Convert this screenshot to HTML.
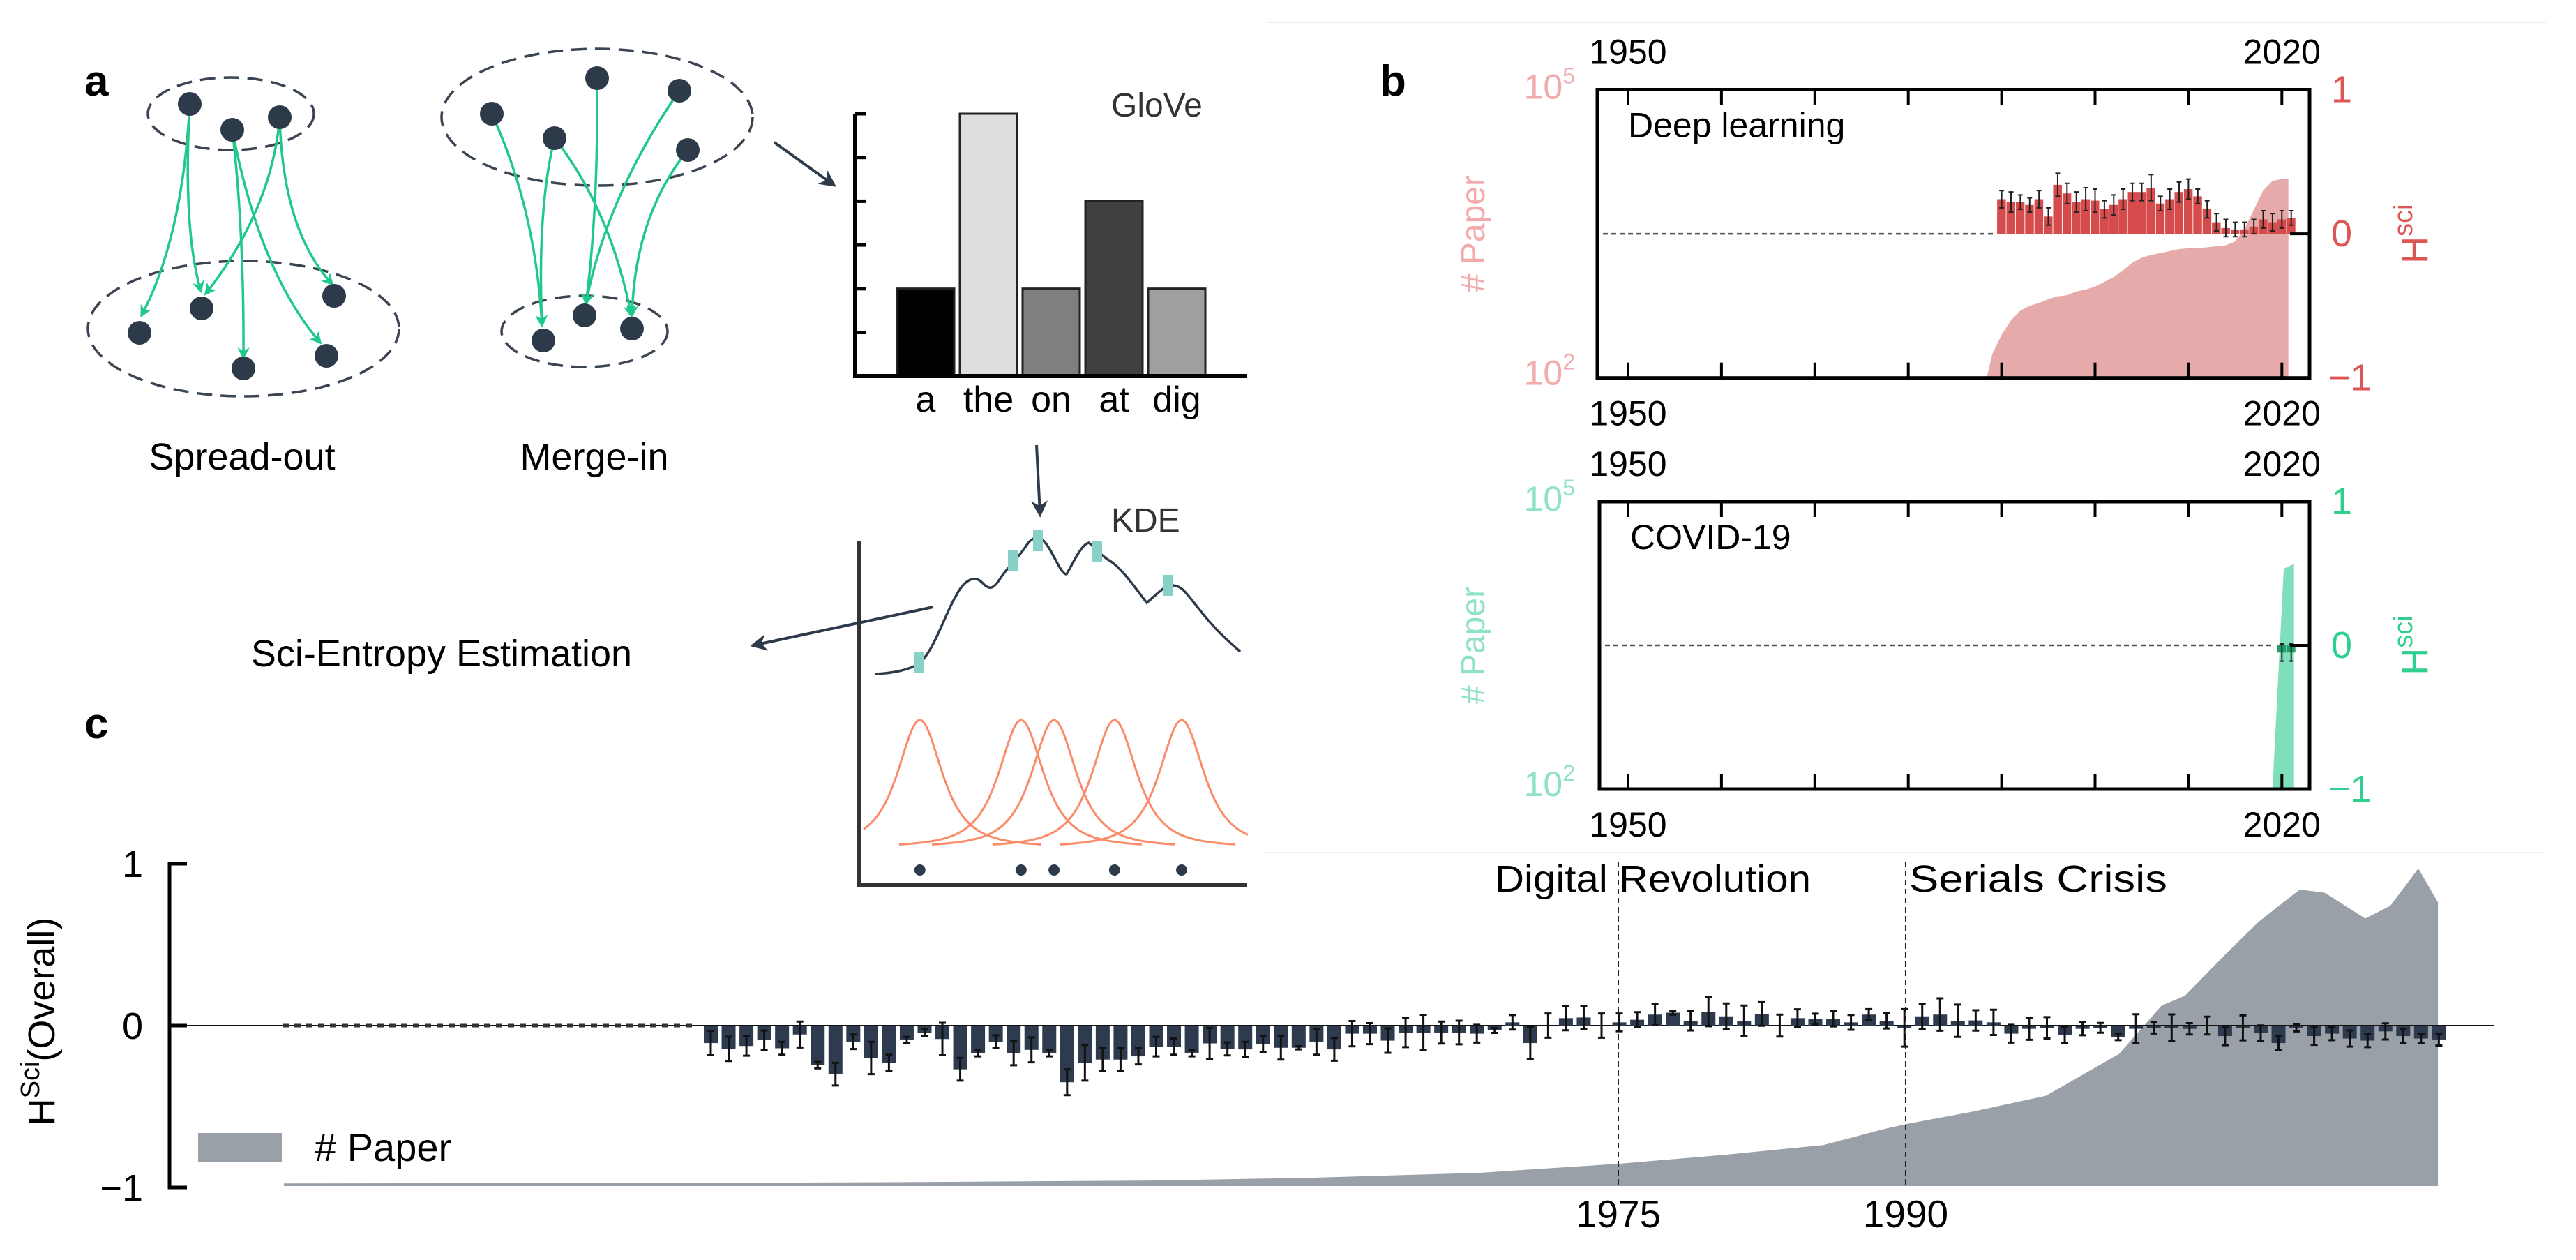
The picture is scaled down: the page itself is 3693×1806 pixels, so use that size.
<!DOCTYPE html>
<html><head><meta charset="utf-8"><style>
html,body{margin:0;padding:0;background:#fff;}
svg{display:block;font-family:"Liberation Sans",Arial,sans-serif;}
</style></head><body>
<svg id="fig" width="3693" height="1806" viewBox="0 0 3693 1806" xmlns="http://www.w3.org/2000/svg">
<defs>
<marker id="ga" viewBox="0 0 10 10" refX="8" refY="5" markerWidth="5" markerHeight="5" orient="auto"><path d="M0,0 L10,5 L0,10 L3,5 z" fill="#1fc98b"/></marker>
<marker id="da" viewBox="0 0 10 10" refX="8" refY="5" markerWidth="6" markerHeight="6" orient="auto"><path d="M0,0 L10,5 L0,10 L3,5 z" fill="#2d3a4a"/></marker>
</defs>
<line x1="1816" y1="32" x2="3650" y2="32" stroke="#ececec" stroke-width="2"/>
<line x1="1813" y1="1222" x2="3650" y2="1222" stroke="#f0f0f0" stroke-width="2"/>

<!-- PANEL A -->
<g>
<text x="121" y="137" font-size="62" font-weight="bold">a</text>
<g fill="none">
<ellipse cx="331" cy="163" rx="119" ry="52" stroke="#3a4452" stroke-width="3.5" stroke-dasharray="22,12"/>
<ellipse cx="349" cy="471" rx="223" ry="97" stroke="#3a4452" stroke-width="3.5" stroke-dasharray="22,12"/>
<g stroke="#1fc98b" stroke-width="3.5" marker-end="url(#ga)">
<path d="M272,149 Q262,340 203,452"/>
<path d="M272,149 Q262,330 288,417"/>
<path d="M333,186 Q350,330 349,512"/>
<path d="M333,186 Q372,390 459,491"/>
<path d="M401,168 Q390,300 295,421"/>
<path d="M401,168 Q405,330 476,407"/>
</g>
<g fill="#2d3a4a">
<circle cx="272" cy="149" r="17"/>
<circle cx="333" cy="186" r="17"/>
<circle cx="401" cy="168" r="17"/>
<circle cx="200" cy="477" r="17"/>
<circle cx="289" cy="442" r="17"/>
<circle cx="349" cy="528" r="17"/>
<circle cx="468" cy="510" r="17"/>
<circle cx="479" cy="424" r="17"/>
</g>
</g>
<text x="347" y="673" font-size="54" text-anchor="middle">Spread-out</text>
<g fill="none">
<ellipse cx="856" cy="168" rx="223" ry="98" stroke="#3a4452" stroke-width="3.5" stroke-dasharray="22,12"/>
<ellipse cx="838" cy="475" rx="119" ry="51" stroke="#3a4452" stroke-width="3.5" stroke-dasharray="22,12"/>
<g stroke="#1fc98b" stroke-width="3.5" marker-end="url(#ga)">
<path d="M705,163 Q768,300 777,466"/>
<path d="M795,198 Q770,300 777,466"/>
<path d="M795,198 Q875,300 905,452"/>
<path d="M856,112 Q858,300 840,435"/>
<path d="M974,130 Q870,280 840,435"/>
<path d="M986,215 Q910,310 906,452"/>
</g>
<g fill="#2d3a4a">
<circle cx="705" cy="163" r="17"/>
<circle cx="795" cy="198" r="17"/>
<circle cx="856" cy="112" r="17"/>
<circle cx="974" cy="130" r="17"/>
<circle cx="986" cy="215" r="17"/>
<circle cx="779" cy="488" r="17"/>
<circle cx="838" cy="452" r="17"/>
<circle cx="906" cy="471" r="17"/>
</g>
</g>
<text x="852" y="673" font-size="54" text-anchor="middle">Merge-in</text>
<g stroke="#2d3a4a" stroke-width="4" marker-end="url(#da)" fill="none">
<line x1="1110" y1="204" x2="1195" y2="265"/>
<line x1="1486" y1="638" x2="1491" y2="737"/>
<line x1="1338" y1="870" x2="1080" y2="925"/>
</g>
<text x="633" y="955" font-size="54" text-anchor="middle">Sci-Entropy Estimation</text>
<g id="glove"></g>
<text x="1593" y="167" font-size="48" fill="#333">GloVe</text>
<g id="kde"></g>
<text x="1593" y="762" font-size="48" fill="#333">KDE</text>
</g>

<!-- PANEL B -->
<text x="1978" y="137" font-size="62" font-weight="bold">b</text>
<g id="dl"></g>
<g id="cv"></g>

<!-- PANEL C -->
<text x="121" y="1058" font-size="62" font-weight="bold">c</text>
<g id="ov"></g>
</svg>
<script>
// ---------- GloVe data ----------
const gloveWords = ["a","the","on","at","dig"];
const gloveValues = [2, 6, 2, 4, 2];
const gloveColors = ["#000000","#dedede","#7f7f7f","#404040","#9f9f9f"];
// ---------- KDE data ----------
const kdeSamples = [1.56, 4.17, 5.02, 6.58, 8.31];
// ---------- Deep learning ----------
const dlYears = [];
for (let y = 1990; y <= 2021; y++) dlYears.push(y);
const dlH = [0.24,0.22,0.22,0.2,0.24,0.12,0.34,0.28,0.22,0.24,0.23,0.17,0.2,0.24,0.29,0.29,0.32,0.21,0.24,0.29,0.31,0.26,0.17,0.08,0.04,0.03,0.03,0.05,0.1,0.08,0.1,0.11];
const dlErr = [0.06,0.07,0.05,0.05,0.06,0.06,0.08,0.07,0.07,0.08,0.08,0.06,0.07,0.07,0.06,0.06,0.09,0.05,0.07,0.07,0.07,0.05,0.06,0.06,0.06,0.05,0.05,0.05,0.06,0.06,0.06,0.05];
const dlPaperYears = [1988.4,1989,1990,1991,1992,1993,1994,1995,1996,1997,1998,1999,2000,2001,2002,2003,2004,2005,2006,2007,2008,2009,2010,2011,2012,2013,2014,2015,2016,2017,2018,2019,2020,2020.7];
const dlPaperLog = [2.0,2.25,2.45,2.6,2.7,2.75,2.78,2.82,2.85,2.86,2.9,2.92,2.95,3.0,3.05,3.12,3.2,3.25,3.28,3.3,3.32,3.34,3.35,3.35,3.36,3.37,3.38,3.42,3.55,3.75,3.95,4.05,4.07,4.07];
// ---------- COVID ----------
const cvYears = [2020, 2021];
const cvH = [-0.05, -0.05];
const cvErr = [0.06, 0.06];
const cvPaperYears = [2019.0, 2020.2, 2021.3];
const cvPaperLog = [2.0, 4.3, 4.35];
// ---------- Overall ----------
const ovH = [-0.108,-0.144,-0.126,-0.09,-0.14,-0.055,-0.244,-0.30,-0.10,-0.20,-0.23,-0.09,-0.043,-0.083,-0.27,-0.17,-0.10,-0.17,-0.15,-0.17,-0.35,-0.23,-0.21,-0.21,-0.19,-0.13,-0.13,-0.17,-0.11,-0.144,-0.147,-0.115,-0.137,-0.137,-0.10,-0.147,-0.05,-0.05,-0.093,-0.043,-0.043,-0.043,-0.043,-0.05,-0.03,0.02,-0.108,0.0,0.046,0.05,
0.0,0.02,0.036,0.068,0.08,0.03,0.086,0.057,0.03,0.072,0.0,0.046,0.04,0.043,0.02,0.068,0.03,-0.014,0.057,0.068,0.03,0.032,0.02,-0.05,-0.02,-0.014,-0.057,-0.02,-0.014,-0.07,-0.02,-0.014,-0.014,-0.02,0.0,-0.065,-0.014,-0.046,-0.108,-0.014,-0.065,-0.05,-0.08,-0.093,-0.036,-0.065,-0.08,-0.086];
const ovErr = [0.075,0.075,0.06,0.06,0.04,0.08,0.02,0.07,0.045,0.1,0.05,0.02,0.02,0.1,0.07,0.02,0.04,0.075,0.077,0.02,0.08,0.11,0.07,0.07,0.05,0.06,0.05,0.02,0.095,0.04,0.047,0.05,0.073,0.01,0.08,0.07,0.078,0.065,0.075,0.09,0.11,0.068,0.073,0.055,0.015,0.045,0.1,0.075,0.075,0.07,
0.075,0.055,0.047,0.065,0.012,0.06,0.09,0.08,0.094,0.073,0.068,0.055,0.034,0.048,0.046,0.034,0.048,0.116,0.077,0.1,0.1,0.063,0.078,0.055,0.068,0.066,0.05,0.04,0.03,0.02,0.09,0.035,0.083,0.035,0.055,0.056,0.077,0.047,0.045,0.022,0.054,0.04,0.05,0.04,0.05,0.043,0.027,0.037];
const ovPaperIdx = [-23.96,0,10,24.67,33.87,43.1,50.94,56.9,62.45,65.86,67.07,70.75,74.94,79.05,81.44,82.74,85.04,86.88,89.19,90.6,92.87,94.28,95.85,96.95];
const ovPaper = [0.008,0.01,0.012,0.017,0.026,0.041,0.069,0.097,0.127,0.177,0.192,0.23,0.28,0.41,0.56,0.59,0.72,0.82,0.92,0.91,0.83,0.87,0.985,0.88];
const ovEventIdx = [50.94, 67.07];
const ovEventLabels = ["Digital Revolution", "Serials Crisis"];
const ovTickLabels = ["1975", "1990"];
const ovYTicks = [1, 0, -1];

const NS = "http://www.w3.org/2000/svg";
function mk(parent, tag, attrs, text) {
  const e = document.createElementNS(NS, tag);
  for (const k in attrs) e.setAttribute(k, attrs[k]);
  if (text !== undefined) e.textContent = text;
  parent.appendChild(e);
  return e;
}

// ---------- GloVe chart ----------
(function(){
  const g = document.getElementById('glove');
  const x0 = 1286, bw = 82, gap = 90, yb = 539, unit = (539-163)/6;
  gloveValues.forEach((v, i) => {
    const x = x0 + i*gap;
    const r = mk(g, 'rect', {x: x, y: yb - v*unit, width: bw, height: v*unit, fill: gloveColors[i], stroke: '#222', 'stroke-width': 3});
    
    
    const t = mk(g, 'text', {x: x + bw/2, y: 590, 'font-size': 52, 'text-anchor': 'middle'}, gloveWords[i]);
    
    
  });
  const ax = mk(g, 'path', {d: 'M1226,163 L1226,539 L1788,539', fill: 'none', stroke: '#000', 'stroke-width': 6});
  
  
  for (let k = 0; k <= 5; k++) {
    const ty = 163 + k*unit*1.0 + (k>0? 0:0);
    const tk = mk(g, 'line', {x1: 1226, x2: 1241, y1: 163 + k*62.7, y2: 163 + k*62.7, stroke: '#000', 'stroke-width': 5});
    
    
  }
})();

// ---------- KDE chart ----------
(function(){
  const g = document.getElementById('kde');
  const sx = v => 1232 + v*55.6;
  const base = 1214, h = 182, gam = 49;
  kdeSamples.forEach(s => {
    const c = sx(s);
    let d = '';
    for (let x = Math.max(1238, c-175); x <= Math.min(1790, c+175); x += 3) {
      const dd = (x-c)/gam;
      const y = base - h/Math.pow(1+dd*dd, 1.5);
      d += (d ? 'L' : 'M') + x.toFixed(1) + ',' + y.toFixed(1);
    }
    const p = mk(g, 'path', {d: d, fill: 'none', stroke: '#fb8b68', 'stroke-width': 3});
    
    
    const dot = mk(g, 'circle', {cx: c, cy: 1247, r: 8, fill: '#2d3a4a'});
    
    
  });
  const curve = mk(g, 'path', {d: 'M1254,966 C1280,965 1305,960 1319,950 C1340,930 1355,880 1370,855 C1380,835 1395,822 1408,835 C1418,846 1424,845 1434,829 C1445,812 1460,800 1472,781 C1478,772 1488,766 1496,775 C1510,790 1520,823 1529,823 C1537,810 1550,780 1561,778 C1570,785 1580,798 1593,805 C1607,815 1620,832 1644,864 C1655,855 1668,840 1679,839 C1695,838 1700,850 1727,883 C1745,905 1762,920 1778,934', fill: 'none', stroke: '#2d3a4a', 'stroke-width': 3.5});
  
  
  [[1318,950],[1452,804],[1488,775],[1573,791],[1675,839]].forEach(p => {
    const m = mk(g, 'rect', {x: p[0]-7, y: p[1]-15, width: 14, height: 30, fill: '#88d1c8'});
    
    
  });
  const ax = mk(g, 'path', {d: 'M1232,775 L1232,1268 L1788,1268', fill: 'none', stroke: '#333', 'stroke-width': 6});
  
  
})();

// ---------- Panel b charts ----------
function panelB(gid, top, bot, left, right, leftColor, rightColor, areaColor, barColor, years, H, E, pYears, pLog, title, x0, x1) {
  const g = document.getElementById(gid);
  const sx = yr => 2334 + (yr-1950)*13.39;
  const hgt = bot - top;
  const sy = v => (top+bot)/2 - v*hgt/2;
  const sp = l => bot - (l-2)/3*hgt;
  // area
  let d = 'M' + sx(pYears[0]) + ',' + bot;
  pYears.forEach((yr, i) => { d += 'L' + sx(yr).toFixed(1) + ',' + sp(pLog[i]).toFixed(1); });
  d += 'L' + sx(pYears[pYears.length-1]).toFixed(1) + ',' + bot + 'Z';
  const a = mk(g, 'path', {d: d, fill: areaColor});
  
  
  // zero dashed
  const z = mk(g, 'line', {x1: left+8, x2: x1, y1: sy(0), y2: sy(0), stroke: '#555', 'stroke-width': 2.5, 'stroke-dasharray': '7,5'});
  
  
  years.forEach((yr, i) => {
    const v = H[i], y0 = sy(0), y1 = sy(v);
    const b = mk(g, 'rect', {x: sx(yr)-6.5, y: Math.min(y0,y1), width: 12.5, height: Math.abs(y1-y0), fill: barColor});
    
    
    const ya = sy(v+E[i]), yb = sy(v-E[i]);
    const eb = mk(g, 'path', {d: 'M'+sx(yr)+','+ya+'V'+yb+'M'+(sx(yr)-3.5)+','+ya+'h7M'+(sx(yr)-3.5)+','+yb+'h7', stroke: '#222', 'stroke-width': 2, fill: 'none'});
    
    
  });
  const frame = mk(g, 'rect', {x: left, y: top, width: right-left, height: hgt, fill: 'none', stroke: '#000', 'stroke-width': 5});
  
  
  const zt = mk(g, 'line', {x1: right-28, x2: right, y1: sy(0), y2: sy(0), stroke: '#000', 'stroke-width': 4});
  
  
  for (let yr = 1950; yr <= 2020; yr += 10) {
    const t1 = mk(g, 'line', {x1: sx(yr), x2: sx(yr), y1: top, y2: top+22, stroke: '#000', 'stroke-width': 4});
    
    
    const t2 = mk(g, 'line', {x1: sx(yr), x2: sx(yr), y1: bot-22, y2: bot, stroke: '#000', 'stroke-width': 4});
    
    
  }
  ['1950','2020'].forEach(lbl => {
    const xx = sx(+lbl);
    const a1 = mk(g, 'text', {x: xx, y: top-37, 'font-size': 50, 'text-anchor': 'middle'}, lbl);
    
    
    const a2 = mk(g, 'text', {x: xx, y: bot+68, 'font-size': 50, 'text-anchor': 'middle'}, lbl);
    
    
  });
  const t = mk(g, 'text', {x: left+44, y: top+68, 'font-size': 50}, title);
  
  
  [[top+13,'5'],[bot+10,'2']].forEach(p => {
    const tx = mk(g, 'text', {x: 2258, y: p[0], 'font-size': 50, fill: leftColor, 'text-anchor': 'end', 'font-weight': '300'});
    
    
    mk(tx, 'tspan', {}, '10');
    mk(tx, 'tspan', {dy: -22, 'font-size': 32}, p[1]);
  });
  const pl = mk(g, 'text', {x: 0, y: 0, 'font-size': 48, fill: leftColor, 'text-anchor': 'middle', transform: 'translate(2128,' + sy(0) + ') rotate(-90)'}, '# Paper');
  
  
  [[1,'1'],[0,'0'],[-1,'\u22121']].forEach(p => {
    const tx = mk(g, 'text', {x: p[0] < 0 ? 3338 : 3342, y: sy(p[0]) + 18, 'font-size': 54, fill: rightColor}, p[1]);
    
    
  });
  const hl = mk(g, 'text', {x: 0, y: 0, 'font-size': 54, fill: rightColor, 'text-anchor': 'middle', transform: 'translate(3480,' + sy(0) + ') rotate(-90)'});
  
  
  mk(hl, 'tspan', {}, 'H');
  mk(hl, 'tspan', {dy: -22, 'font-size': 38}, 'sci');
}
panelB('dl', 128.5, 541.7, 2290, 3311, '#f2aaaa', '#dc5656', '#e6aaaa', '#d64c4c', dlYears, dlH, dlErr, dlPaperYears, dlPaperLog, 'Deep learning', 2298, 2861);
panelB('cv', 719, 1131, 2293, 3311, '#8fe3c4', '#2fcf8f', '#7fdfbb', '#1f9e6a', cvYears, cvH, cvErr, cvPaperYears, cvPaperLog, 'COVID-19', 2300, 3262);

// ---------- Panel c ----------
(function(){
  const g = document.getElementById('ov');
  const sx = i => 1019 + i*25.54;
  const y0 = 1470, unit = 232;
  const sy = v => y0 - v*unit;
  const sp = v => 1700 - v*(1700-1238);
  let d = 'M' + sx(ovPaperIdx[0]) + ',1700';
  ovPaperIdx.forEach((p, i) => { d += 'L' + sx(p).toFixed(1) + ',' + sp(ovPaper[i]).toFixed(1); });
  d += 'L' + sx(ovPaperIdx[ovPaperIdx.length-1]).toFixed(1) + ',1700Z';
  const a = mk(g, 'path', {d: d, fill: '#9aa0a8'});
  
  
  ovEventIdx.forEach((p, i) => {
    const l = mk(g, 'line', {x1: sx(p), x2: sx(p), y1: 1235, y2: 1702, stroke: '#222', 'stroke-width': 2, 'stroke-dasharray': '8,5'});
    
    
    const t = mk(g, 'text', {x: sx(p) + (i === 0 ? -177 : 5), y: 1278, 'font-size': 54, textLength: i === 0 ? 453 : 370, lengthAdjust: 'spacingAndGlyphs'}, ovEventLabels[i]);
    
    
    const tl = mk(g, 'text', {x: sx(p), y: 1759, 'font-size': 55, 'text-anchor': 'middle'}, ovTickLabels[i]);
    
    
  });
  const zl = mk(g, 'line', {x1: 268, x2: 3575, y1: y0, y2: y0, stroke: '#111', 'stroke-width': 2});
  
  
  const dm = mk(g, 'line', {x1: 405, x2: 1000, y1: y0, y2: y0, stroke: '#333', 'stroke-width': 5, 'stroke-dasharray': '9,8'});
  
  
  ovH.forEach((v, i) => {
    const x = sx(i), yv = sy(v);
    const b = mk(g, 'rect', {x: x-10, y: Math.min(y0, yv), width: 20, height: Math.max(1, Math.abs(yv-y0)), fill: '#2e3b4e'});
    
    
    const ya = sy(v+ovErr[i]), yb = sy(v-ovErr[i]);
    const eb = mk(g, 'path', {d: 'M'+x+','+ya+'V'+yb+'M'+(x-5)+','+ya+'h10M'+(x-5)+','+yb+'h10', stroke: '#111', 'stroke-width': 3, fill: 'none'});
    
    
  });
  const ax = mk(g, 'path', {d: 'M268,1238 H243 V1702 H268 M243,1470 H268', fill: 'none', stroke: '#000', 'stroke-width': 5});
  
  
  ovYTicks.forEach(v => {
    const t = mk(g, 'text', {x: 205, y: sy(v) + 19, 'font-size': 54, 'text-anchor': 'end'}, v < 0 ? '\u22121' : String(v));
    
    
  });
  const yt = mk(g, 'text', {x: 0, y: 0, 'font-size': 54, 'text-anchor': 'middle', transform: 'translate(78,1464) rotate(-90)'});
  
  
  mk(yt, 'tspan', {}, 'H');
  mk(yt, 'tspan', {dy: -22, 'font-size': 38}, 'Sci');
  mk(yt, 'tspan', {dy: 22}, '(Overall)');
  const lr = mk(g, 'rect', {x: 284, y: 1624, width: 120, height: 42, fill: '#9aa0a8'});
  
  
  const lt = mk(g, 'text', {x: 451, y: 1664, 'font-size': 56}, '# Paper');
  
  
})();
</script>
</body></html>
